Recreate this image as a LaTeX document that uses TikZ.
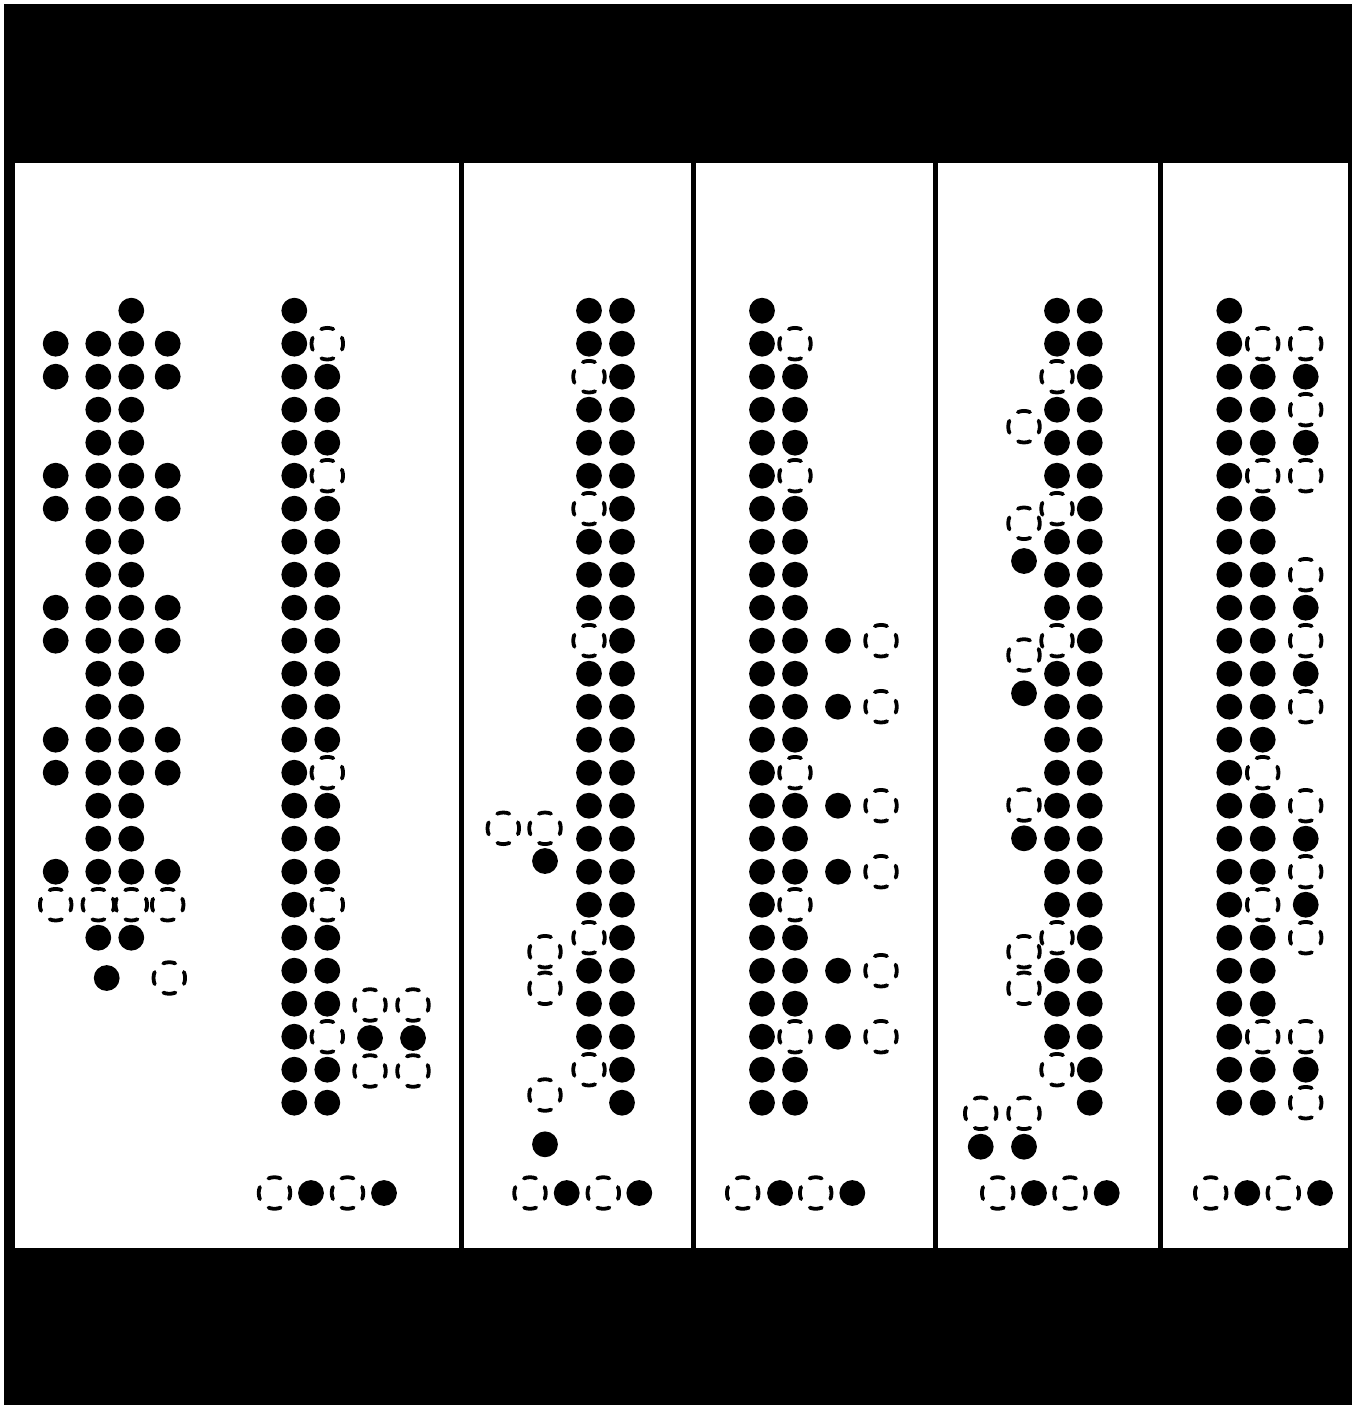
\documentclass[tikz,border=0pt]{standalone}
\tikzset{
  hole/.style={draw=black, line width=3.8pt, line cap=round,
    dash pattern=on 12.4pt off 12.42pt, dash phase=6.2pt},
  panel/.style={fill=white},
}
\newcommand\gF[2]{\fill (#1,{310.7+33*#2}) circle[radius=12.9pt];}
\newcommand\gH[2]{\draw[hole] (#1,{310.7+33*#2}) circle[radius=15.8pt];}
\newcommand\aF[2]{\fill (#1,#2) circle[radius=12.9pt];}
\newcommand\aH[2]{\draw[hole] (#1,#2) circle[radius=15.8pt];}
\begin{document}
\begin{tikzpicture}[x=1pt,y=-1pt]
\useasboundingbox (0,0) rectangle (1352,1405);
\fill[white] (0,0) rectangle (1352,1405);
\fill[black] (4,4) rectangle (1352,1405);
% panels
\fill[panel] (15,163) rectangle (459,1248);
\fill[panel] (463.5,163) rectangle (691,1248);
\fill[panel] (696,163) rectangle (932.5,1248);
\fill[panel] (937.5,163) rectangle (1157.5,1248);
\fill[panel] (1162.5,163) rectangle (1347.5,1248);

% ---------- panel 1, left group ----------
\gF{131.3}{0}
\foreach \r in {1,2,5,6,9,10,13,14,17} {\gF{55.7}{\r}\gF{98.3}{\r}\gF{131.3}{\r}\gF{167.7}{\r}}
\foreach \r in {3,4,7,8,11,12,15,16,19} {\gF{98.3}{\r}\gF{131.3}{\r}}
\gH{55.7}{18}\gH{98.3}{18}\gH{131.3}{18}\gH{167.7}{18}
\aF{106.7}{978}\aH{169.3}{978}

% ---------- panel 1, right group ----------
\foreach \r in {0,...,24} {\gF{294.3}{\r}}
\foreach \r in {2,3,4,6,7,8,9,10,11,12,13,15,16,17,19,20,21,23,24} {\gF{327.3}{\r}}
\foreach \r in {1,5,14,18,22} {\gH{327.3}{\r}}
\aH{370}{1005}\aH{413}{1005}
\aF{370}{1038}\aF{413}{1038}
\aH{370}{1071}\aH{413}{1071}
\aH{274.5}{1193}\aF{311}{1193}\aH{347.5}{1193}\aF{384}{1193}

% ---------- panel 2 ----------
\foreach \r in {0,...,24} {\gF{622}{\r}}
\foreach \r in {0,1,3,4,5,7,8,9,11,12,13,14,15,16,17,18,20,21,22} {\gF{589}{\r}}
\foreach \r in {2,6,10,19,23} {\gH{589}{\r}}
\aH{503.3}{828.3}\aH{545}{828.3}\aF{545}{861}
\aH{545}{951.7}\aH{545}{988.3}
\aH{545}{1095}\aF{545}{1144.3}
\aH{530}{1193}\aF{566.7}{1193}\aH{603.3}{1193}\aF{639.3}{1193}

% ---------- panel 3 ----------
\foreach \r in {0,...,24} {\gF{762}{\r}}
\foreach \r in {2,3,4,6,7,8,9,10,11,12,13,15,16,17,19,20,21,23,24} {\gF{795}{\r}}
\foreach \r in {1,5,14,18,22} {\gH{795}{\r}}
\foreach \r in {10,12,15,17,20,22} {\gF{838}{\r}\gH{881}{\r}}
\aH{742.7}{1193}\aF{780}{1193}\aH{815.7}{1193}\aF{852.3}{1193}

% ---------- panel 4 ----------
\foreach \r in {0,...,24} {\gF{1089.7}{\r}}
\foreach \r in {0,1,3,4,5,7,8,9,11,12,13,14,15,16,17,18,20,21,22} {\gF{1057}{\r}}
\foreach \r in {2,6,10,19,23} {\gH{1057}{\r}}
\aH{1024}{426.7}
\aH{1024}{523.3}\aF{1024}{561}
\aH{1024}{655}\aF{1024}{693.3}
\aH{1024}{805}\aF{1024}{838.3}
\aH{1024}{951.7}\aH{1024}{988.3}
\aH{980.7}{1113.3}\aH{1024}{1113.3}
\aF{980.7}{1146.7}\aF{1024}{1146.7}
\aH{997.7}{1193}\aF{1034}{1193}\aH{1070}{1193}\aF{1106.7}{1193}

% ---------- panel 5 ----------
\foreach \r in {0,...,24} {\gF{1229.3}{\r}}
\foreach \r in {2,3,4,6,7,8,9,10,11,12,13,15,16,17,19,20,21,23,24} {\gF{1262.7}{\r}}
\foreach \r in {1,5,14,18,22} {\gH{1262.7}{\r}}
\foreach \r in {2,4,9,11,16,18,23} {\gF{1305.7}{\r}}
\foreach \r in {1,3,5,8,10,12,15,17,19,22,24} {\gH{1305.7}{\r}}
\aH{1210.7}{1193}\aF{1247.3}{1193}\aH{1283.3}{1193}\aF{1320}{1193}
\end{tikzpicture}
\end{document}
